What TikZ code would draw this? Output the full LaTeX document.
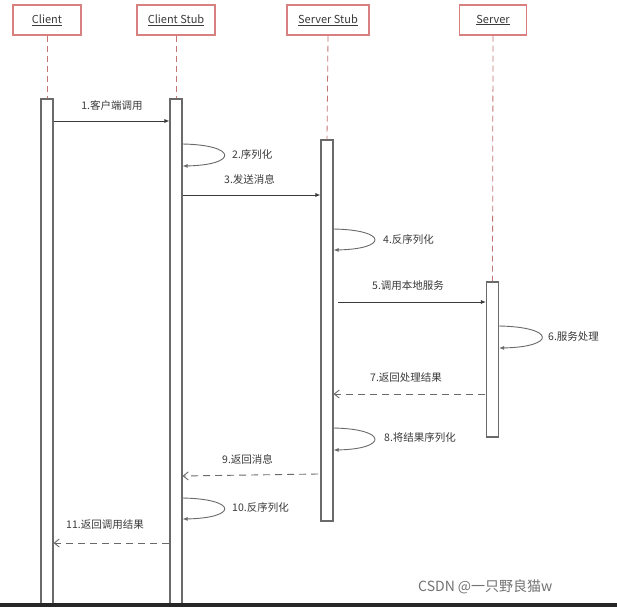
\documentclass[tikz,border=0pt]{standalone}
\usepackage{fontspec}
\setmainfont{Noto Sans CJK SC}
\usetikzlibrary{arrows.meta}
\definecolor{hdr}{HTML}{D88080}
\definecolor{barc}{HTML}{6A6A6A}
\definecolor{txt}{HTML}{3A3A3A}
\tikzset{
  header/.style={draw=hdr, line width=1.2pt, fill=white, minimum width=#1, minimum height=30pt, inner sep=0pt, font=\fontsize{11}{13}\selectfont, text=txt},
  actbar/.style={draw=barc, line width=1.1pt, fill=white, minimum width=12pt, inner sep=0pt},
  lifeline/.style={draw=hdr!90!black, dashed, dash pattern=on 6pt off 4pt, line width=0.8pt},
  msg/.style={draw=txt, line width=0.8pt, -{Latex[length=5pt,width=4pt]}},
  ret/.style={draw=barc, line width=0.9pt, dash pattern=on 7pt off 5pt, -{Straight Barb[length=5pt,width=8pt]}},
  selfmsg/.style={draw=barc, line width=0.9pt, -{Latex[length=5pt,width=4pt]}},
  lbl/.style={font=\fontsize{10.5}{12}\selectfont, text=txt, inner sep=0pt, anchor=west},
}
\begin{document}
\begin{tikzpicture}[x=1pt,y=-1pt]
\useasboundingbox (0,0) rectangle (617,607);
\fill[white] (0,0) rectangle (617,607);
% headers
\node[header=68pt] (hc) at (47,20) {\underline{Client}};
\node[header=78pt] (hcs) at (176,20) {\underline{Client Stub}};
\node[header=82pt] (hss) at (328,20) {\underline{Server Stub}};
\node[header=67pt] (hs) at (493,20) {\underline{Server}};
% activation bars
\node[actbar, minimum height=506pt] (bc) at (47,352) {};
\node[actbar, minimum height=506pt] (bcs) at (176,352) {};
\node[actbar, minimum height=381pt] (bss) at (327,330.5) {};
\node[actbar, minimum height=155pt] (bs) at (492.5,359.5) {};
% lifelines
\draw[lifeline] (hc.south) -- (bc.north);
\draw[lifeline] (hcs.south) -- (bcs.north);
\draw[lifeline] (hss.south) -- (bss.north);
\draw[lifeline] (hs.south) -- (bs.north);
% bottom band
\fill[black!85] (0,603) rectangle (617,607);
% 1
\coordinate (m1a) at (bc.east |- 0,121);
\coordinate (m1b) at (bcs.west |- 0,121);
\draw[msg] (m1a) -- (m1b);
\node[lbl, anchor=center] (l1) at (112,105) {1.客户端调用};
% 2
\coordinate (s2a) at (bcs.east |- 0,144);
\coordinate (s2b) at (bcs.east |- 0,166);
\draw[selfmsg] (s2a) .. controls (238,145) and (238,165) .. (s2b);
\node[lbl] (l2) at (232,155) {2.序列化};
% 3
\coordinate (m3a) at (bcs.east |- 0,195);
\coordinate (m3b) at (bss.west |- 0,195);
\draw[msg] (m3a) -- (m3b);
\node[lbl] (l3) at (224,179) {3.发送消息};
% 4
\coordinate (s4a) at (bss.east |- 0,229);
\coordinate (s4b) at (bss.east |- 0,250);
\draw[selfmsg] (s4a) .. controls (388,230) and (388,249) .. (s4b);
\node[lbl] (l4) at (383,240) {4.反序列化};
% 5
\coordinate (m5a) at (338,302);
\coordinate (m5b) at (bs.west |- 0,302);
\draw[msg] (m5a) -- (m5b);
\node[lbl] (l5) at (372,286) {5.调用本地服务};
% 6
\coordinate (s6a) at (bs.east |- 0,326);
\coordinate (s6b) at (bs.east |- 0,348);
\draw[selfmsg] (s6a) .. controls (556,327) and (556,347) .. (s6b);
\node[lbl] (l6) at (548,337) {6.服务处理};
% 7
\coordinate (m7a) at (485,394);
\coordinate (m7b) at (bss.east |- 0,394);
\draw[ret] (m7a) -- (m7b);
\node[lbl] (l7) at (370,378) {7.返回处理结果};
% 8
\coordinate (s8a) at (bss.east |- 0,428);
\coordinate (s8b) at (bss.east |- 0,450);
\draw[selfmsg] (s8a) .. controls (388,429) and (388,449) .. (s8b);
\node[lbl] (l8) at (384,438) {8.将结果序列化};
% 9
\coordinate (m9a) at (318,474);
\coordinate (m9b) at (bcs.east |- 0,476);
\draw[ret] (m9a) -- (m9b);
\node[lbl] (l9) at (222,459) {9.返回消息};
% 10
\coordinate (s10a) at (bcs.east |- 0,498);
\coordinate (s10b) at (bcs.east |- 0,519);
\draw[selfmsg] (s10a) .. controls (238,499) and (238,518) .. (s10b);
\node[lbl] (l10) at (232,508) {10.反序列化};
% 11
\coordinate (m11a) at (bcs.west |- 0,543);
\coordinate (m11b) at (bc.east |- 0,543);
\draw[ret] (m11a) -- (m11b);
\node[lbl] (l11) at (66,525) {11.返回调用结果};
% watermark
\node[lbl, font=\fontsize{14}{16}\selectfont, text=black!55] (wm) at (418,587) {CSDN @一只野良猫w};
\end{tikzpicture}
\end{document}
